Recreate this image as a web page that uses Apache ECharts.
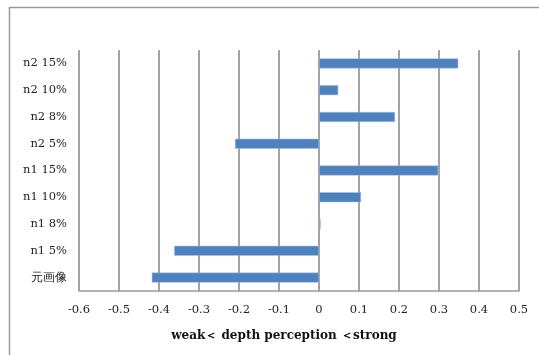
<!DOCTYPE html>
<html><head><meta charset="utf-8">
<script src="https://cdn.jsdelivr.net/npm/echarts@6/dist/echarts.min.js"></script>
<style>html,body{margin:0;padding:0;background:#fff}#c{width:539px;height:355px}</style>
</head><body><div id="c"></div>
<script>
const categories = ['元画像', 'n1 5%', 'n1 8%', 'n1 10%', 'n1 15%', 'n2 5%', 'n2 8%', 'n2 10%', 'n2 15%'];
const values = [-0.418, -0.362, 0.004, 0.105, 0.298, -0.21, 0.19, 0.048, 0.348];
const xTicks = [-0.6, -0.5, -0.4, -0.3, -0.2, -0.1, 0, 0.1, 0.2, 0.3, 0.4, 0.5];
const axisTitle = 'weak＜ depth perception ＜strong';

const chart = echarts.init(document.getElementById('c'));
const serif = '"DejaVu Serif", "Liberation Serif", serif';
chart.setOption({
  animation: false,
  graphic: [{
    type: 'rect', left: 7, top: 5, shape: {width: 640, height: 400},
    style: {fill: 'none', stroke: '#9a9a9a', lineWidth: 1.5}, silent: true
  }],
  grid: {left: 79, right: 20, top: 50, bottom: 64},
  xAxis: {
    type: 'value', min: xTicks[0], max: xTicks[xTicks.length - 1], interval: 0.1,
    axisLine: {show: true, lineStyle: {color: '#9a9a9a', width: 1.5}},
    axisTick: {show: false},
    splitLine: {show: true, lineStyle: {color: '#858585', width: 1.5}},
    axisLabel: {
      margin: 13, color: '#222', fontFamily: serif, fontSize: 11.5,
      formatter: v => { const r = Math.round(v * 10) / 10; return r < 0 ? '-' + (-r).toString() : r.toString(); }
    },
    name: axisTitle, nameLocation: 'middle', nameGap: 39,
    nameTextStyle: {fontFamily: serif, fontWeight: 'bold', fontSize: 12, color: '#111', padding: [0, 30, 0, 0]}
  },
  yAxis: {
    type: 'category', data: categories,
    axisLine: {show: false}, axisTick: {show: false}, splitLine: {show: false},
    axisLabel: {margin: 12, color: '#222', fontFamily: serif, fontSize: 11.5}
  },
  series: [{
    type: 'bar', data: values, barWidth: 10,
    itemStyle: {color: '#4F81BD', borderColor: '#a9c0e0', borderWidth: 0.5}
  }]
});
</script></body></html>
